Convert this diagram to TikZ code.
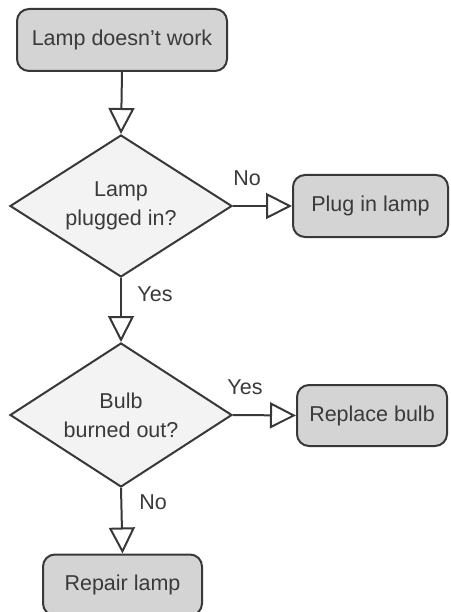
\documentclass[tikz,border=0pt]{standalone}
\usepackage{fontspec}
\setmainfont{Liberation Sans}
\usetikzlibrary{shapes.geometric,arrows.meta}
\definecolor{linec}{HTML}{383838}
\definecolor{textc}{HTML}{3A3A3A}
\definecolor{boxfill}{HTML}{D4D4D4}
\definecolor{diafill}{HTML}{F3F3F3}
\begin{document}
\begin{tikzpicture}[x=1pt,y=-1pt,
  every node/.style={font=\fontsize{21.5}{29}\selectfont, text=textc},
  procbox/.style={draw=linec, line width=2pt, fill=boxfill, rounded corners=12pt, inner sep=0pt},
  decision/.style={draw=linec, line width=2pt, fill=diafill, diamond, shape aspect=1.56, inner sep=0pt, align=center},
  flow/.style={draw=linec, line width=2pt, -{Triangle[open, length=26pt, width=26pt, fill=white]}},
  lbl/.style={inner sep=0pt}]
\useasboundingbox (0,0) rectangle (450,612);
\node[procbox, minimum width=210pt, minimum height=62pt] (start) at (122,40) {Lamp doesn't work};
\node[decision, minimum width=222pt, minimum height=142pt] (d1) at (121,206) {Lamp\\plugged in?};
\node[procbox, minimum width=155pt, minimum height=62pt] (plug) at (370.5,206) {Plug in lamp};
\node[decision, minimum width=222pt, minimum height=144pt] (d2) at (121,415) {Bulb\\burned out?};
\node[procbox, minimum width=150pt, minimum height=61pt] (repl) at (372,415.5) {Replace bulb};
\node[procbox, minimum width=159pt, minimum height=61pt] (repair) at (122.5,585) {Repair lamp};
\draw[flow] (start.south) -- (d1.north);
\draw[flow] (d1.east) -- (plug.west);
\draw[flow] (d1.south) -- (d2.north);
\draw[flow] (d2.east) -- (repl.west);
\draw[flow] (d2.south) -- (repair.north);
\node[lbl] (l1) at (247,178) {No};
\node[lbl] (l2) at (155,294) {Yes};
\node[lbl] (l3) at (245,387) {Yes};
\node[lbl] (l4) at (153,502) {No};
\end{tikzpicture}
\end{document}
